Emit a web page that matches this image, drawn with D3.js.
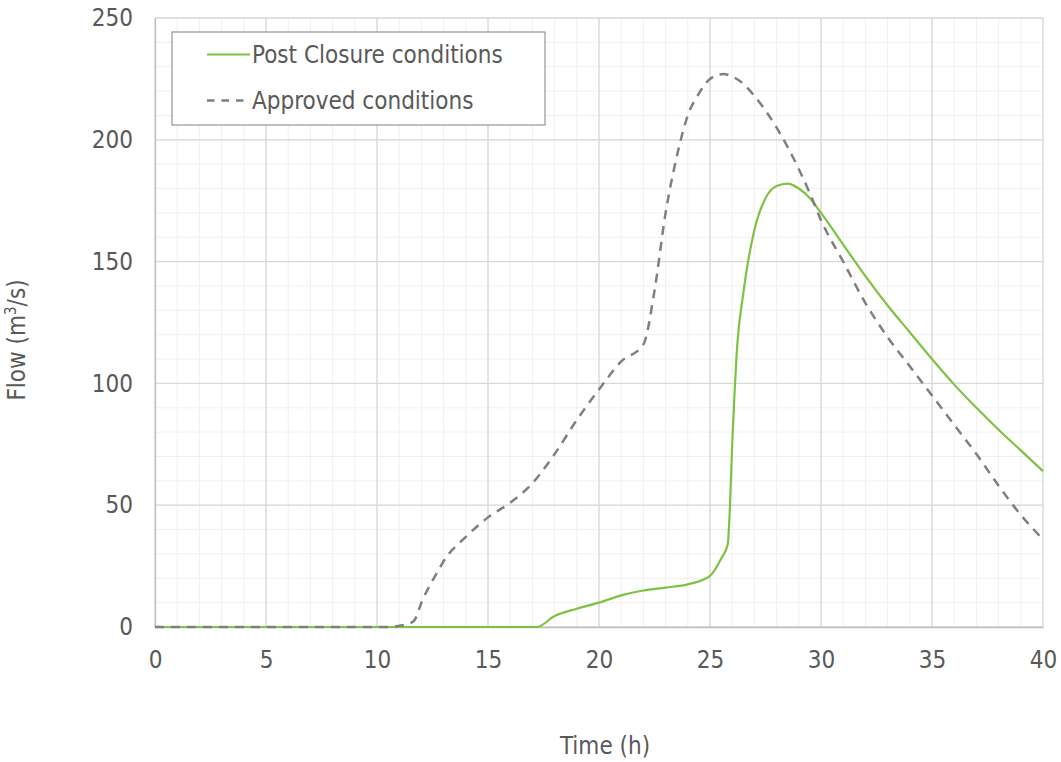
<!DOCTYPE html>
<html>
<head>
<meta charset="utf-8">
<script src="https://cdn.jsdelivr.net/npm/d3@7"></script>
<style>
  body { margin: 0; background: #fff; }
  svg text { font-family: "DejaVu Sans Condensed", "DejaVu Sans", Verdana, sans-serif; font-stretch: condensed; fill: #595959; }
</style>
</head>
<body>
<div id="chart"></div>
<script>
// Time (h) and flow (m3/s)
const approvedTime = [0, 2, 4, 6, 8, 10, 10.4, 11.4, 11.7, 12, 12.75, 13, 14, 15, 16, 17, 18, 19, 20, 21, 22,
    22.5, 23, 23.5, 24, 24.5, 25, 25.6, 26, 26.5, 27, 27.5, 28, 28.5, 29, 29.5, 30, 31, 32, 33, 34, 35, 36, 37, 38, 39, 40];
const approvedFlow = [0, 0, 0, 0, 0, 0, 0, 1.2, 3, 10, 23, 27, 37, 45, 51, 59, 71, 85, 97.5, 109, 116,
    138, 170, 193, 210, 219, 225, 227, 226, 223, 218, 212, 205, 197, 188, 178, 167, 150, 133, 119, 107, 95, 83, 71, 58, 46, 36];

const postTime = [0, 5, 10, 15, 17.2, 18, 19, 20, 21, 22, 23, 24, 25, 25.5, 25.8, 25.9, 26, 26.1, 26.2,
    26.5, 27, 27.5, 28, 28.5, 29, 29.5, 30, 31, 32, 33, 34, 35, 36, 37, 38, 39, 40];
const postFlow = [0, 0, 0, 0, 0, 4.5, 7.5, 10, 13, 15, 16.2, 17.5, 21, 28, 34, 50, 75, 95, 112,
    137, 163, 176, 181, 182, 180, 176, 170, 157, 144, 132, 121, 110, 99.5, 90, 81, 72.5, 64];

const xTicks = [0, 5, 10, 15, 20, 25, 30, 35, 40];
const yTicks = [0, 50, 100, 150, 200, 250];
const seriesNames = ['Post Closure conditions', 'Approved conditions'];

const width = 1061, height = 762;
const margin = { top: 18, right: 18, bottom: 135, left: 155 };
const w = width - margin.left - margin.right;
const h = height - margin.top - margin.bottom;
const fontSize = '24px';

const svg = d3.select('#chart').append('svg')
    .attr('width', width)
    .attr('height', height);

const g = svg.append('g')
    .attr('transform', `translate(${margin.left},${margin.top})`);

const x = d3.scaleLinear().domain([0, 40]).range([0, w]);
const y = d3.scaleLinear().domain([0, 250]).range([h, 0]);

// Minor grid
g.append('g')
    .selectAll('line')
    .data(d3.range(0, 41, 1))
    .enter().append('line')
    .attr('x1', d => x(d)).attr('x2', d => x(d))
    .attr('y1', 0).attr('y2', h)
    .attr('stroke', '#f0f0f0').attr('stroke-width', 1);

g.append('g')
    .selectAll('line')
    .data(d3.range(0, 251, 10))
    .enter().append('line')
    .attr('x1', 0).attr('x2', w)
    .attr('y1', d => y(d)).attr('y2', d => y(d))
    .attr('stroke', '#f0f0f0').attr('stroke-width', 1);

// Major grid
g.append('g')
    .selectAll('line')
    .data(xTicks)
    .enter().append('line')
    .attr('x1', d => x(d)).attr('x2', d => x(d))
    .attr('y1', 0).attr('y2', h)
    .attr('stroke', '#d9d9d9').attr('stroke-width', 1.3);

g.append('g')
    .selectAll('line')
    .data(yTicks)
    .enter().append('line')
    .attr('x1', 0).attr('x2', w)
    .attr('y1', d => y(d)).attr('y2', d => y(d))
    .attr('stroke', '#d9d9d9').attr('stroke-width', 1.3);

// Axes
const xAxis = g.append('g')
    .attr('transform', `translate(0,${h})`)
    .call(d3.axisBottom(x).tickValues(xTicks).tickSize(0).tickPadding(24));
xAxis.select('.domain').attr('stroke', '#bfbfbf').attr('stroke-width', 1.3);
xAxis.selectAll('text').style('font-size', fontSize).attr('fill', '#595959');

const yAxis = g.append('g')
    .call(d3.axisLeft(y).tickValues(yTicks).tickSize(0).tickPadding(22));
yAxis.select('.domain').attr('stroke', '#bfbfbf').attr('stroke-width', 1.3);
yAxis.selectAll('text').style('font-size', fontSize).attr('fill', '#595959');

// Lines
const line = d3.line()
    .x(d => x(d[0]))
    .y(d => y(d[1]))
    .curve(d3.curveMonotoneX);

g.append('path')
    .datum(postTime.map((t, i) => [t, postFlow[i]]))
    .attr('fill', 'none')
    .attr('stroke', '#7dc242')
    .attr('stroke-width', 2.2)
    .attr('d', line);

g.append('path')
    .datum(approvedTime.map((t, i) => [t, approvedFlow[i]]))
    .attr('fill', 'none')
    .attr('stroke', '#7f7f7f')
    .attr('stroke-width', 2.5)
    .attr('stroke-dasharray', '9,7')
    .attr('d', line);

// Axis labels
svg.append('text')
    .attr('x', 605)
    .attr('y', 754)
    .attr('text-anchor', 'middle')
    .style('font-size', fontSize)
    .text('Time (h)');

const yLabel = svg.append('text')
    .attr('transform', 'translate(25,340) rotate(-90)')
    .attr('text-anchor', 'middle')
    .style('font-size', fontSize);
yLabel.append('tspan').text('Flow (m');
yLabel.append('tspan').attr('dy', -9).style('font-size', '15px').text('3');
yLabel.append('tspan').attr('dy', 9).text('/s)');

// Legend
const legend = svg.append('g').attr('transform', 'translate(172,32)');
legend.append('rect')
    .attr('width', 373).attr('height', 93)
    .attr('fill', '#fff')
    .attr('stroke', '#808080').attr('stroke-width', 1);

const legendStyles = [
    { stroke: '#7dc242', dash: null, width: 2.2 },
    { stroke: '#7f7f7f', dash: '7.5,7', width: 2.5 }
];
seriesNames.forEach((name, i) => {
    const row = legend.append('g').attr('transform', `translate(0,${22.5 + i * 46})`);
    row.append('line')
        .attr('x1', 35).attr('x2', 78)
        .attr('stroke', legendStyles[i].stroke)
        .attr('stroke-width', legendStyles[i].width)
        .attr('stroke-dasharray', legendStyles[i].dash);
    row.append('text')
        .attr('x', 80).attr('y', 8.5)
        .style('font-size', fontSize)
        .text(name);
});
</script>
</body>
</html>
